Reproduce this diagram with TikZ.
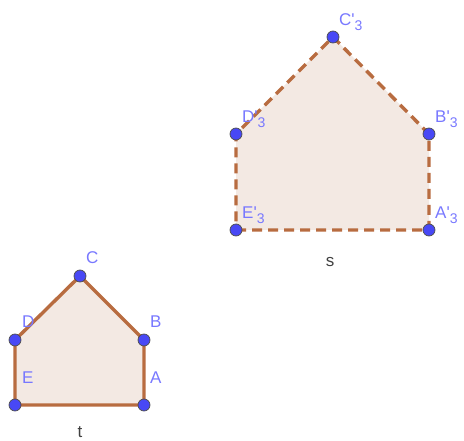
\documentclass[tikz,border=0pt]{standalone}
\usepackage{fontspec}
\newfontfamily\lab{Liberation Sans}
\definecolor{edge}{RGB}{184,108,64}
\definecolor{fillc}{RGB}{243,233,227}
\definecolor{ptc}{RGB}{72,72,245}
\definecolor{labc}{RGB}{120,120,255}
\tikzset{
  pt/.style={circle,fill=ptc,draw=black!70,line width=0.7pt,inner sep=0pt,minimum size=12pt},
  plab/.style={anchor=base west,inner sep=0pt,text=labc,font=\lab\fontsize{17}{17}\selectfont},
  poly/.style={fill=fillc,draw=edge,line width=3.4pt,line join=round},
  polyd/.style={fill=fillc,draw=edge,line width=3.4pt,dash pattern=on 10pt off 6pt},
  nm/.style={inner sep=0pt,text=black!75,font=\lab\fontsize{17}{17}\selectfont}
}
\newcommand{\sub}[1]{\raisebox{-4.5pt}{\fontsize{14}{14}\selectfont #1}}
\begin{document}
\begin{tikzpicture}[x=1pt,y=-1pt]
\useasboundingbox (0,0) rectangle (464,441);
% small pentagon coordinates
\coordinate (pE) at (15,405);
\coordinate (pA) at (144,405);
\coordinate (pB) at (144,340);
\coordinate (pC) at (80,276);
\coordinate (pD) at (15,340);
% large pentagon coordinates
\coordinate (qE) at (236,230);
\coordinate (qA) at (429,230);
\coordinate (qB) at (429,134);
\coordinate (qC) at (333,37);
\coordinate (qD) at (236,134);
\fill[fillc] (pE) -- (pA) -- (pB) -- (pC) -- (pD) -- cycle;
\draw[poly,fill=none] (pE) -- (pA) -- (pB) -- (pC) -- (pD) -- cycle;
\fill[fillc] (qE) -- (qA) -- (qB) -- (qC) -- (qD) -- cycle;
\draw[polyd,fill=none] (qE) -- (qA) -- (qB) -- (qC) -- (qD) -- cycle;
% points
\foreach \p in {pE,pA,pB,pC,pD,qE,qA,qB,qC,qD} {\node[pt] (n\p) at (\p) {};}
% labels
\node[plab] (lE) at ([shift={(7,-21)}]pE) {E};
\node[plab] (lA) at ([shift={(6,-21)}]pA) {A};
\node[plab] (lB) at ([shift={(6,-12)}]pB) {B};
\node[plab] (lC) at ([shift={(6,-12)}]pC) {C};
\node[plab] (lD) at ([shift={(7,-12)}]pD) {D};
\node[plab] (lqE) at ([shift={(6,-11)}]qE) {E'\sub{3}};
\node[plab] (lqA) at ([shift={(6,-11)}]qA) {A'\sub{3}};
\node[plab] (lqB) at ([shift={(6,-11)}]qB) {B'\sub{3}};
\node[plab] (lqC) at ([shift={(6,-11)}]qC) {C'\sub{3}};
\node[plab] (lqD) at ([shift={(6,-11)}]qD) {D'\sub{3}};
\node[nm] (t) at (80,432) {t};
\node[nm] (s) at (330,262) {s};
\end{tikzpicture}
\end{document}
